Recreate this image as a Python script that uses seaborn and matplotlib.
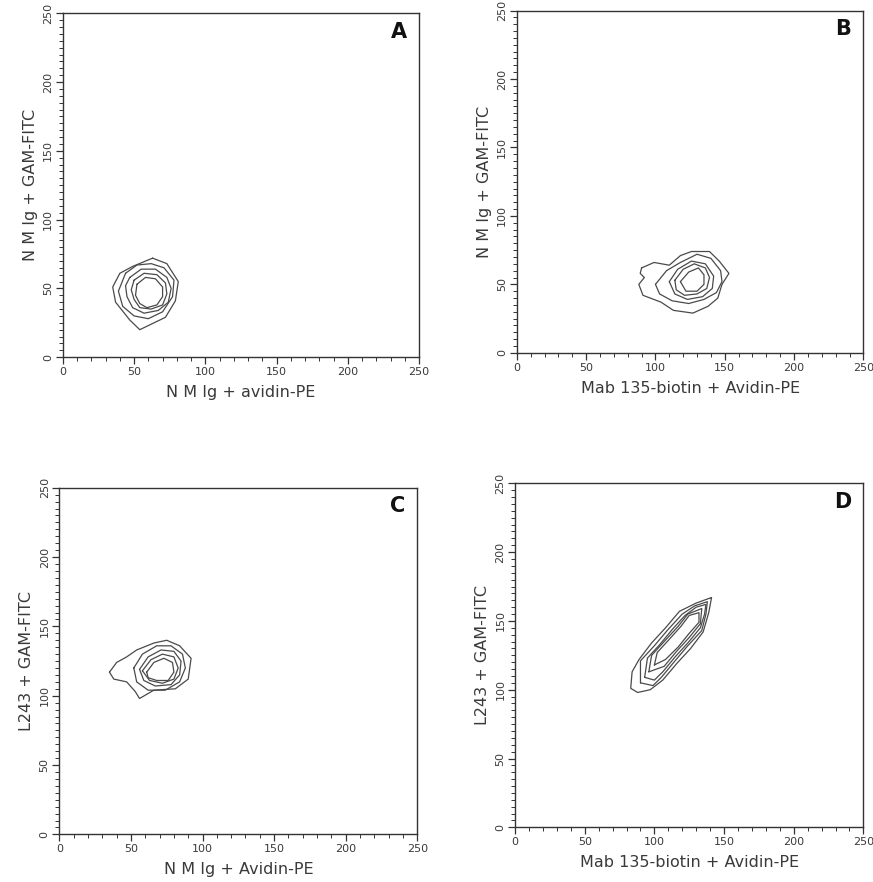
import numpy as np
import pandas as pd
import matplotlib
matplotlib.use("Agg")
import matplotlib.pyplot as plt
import seaborn as sns
from matplotlib.ticker import MultipleLocator

# contour rings, (x, y) in channel units, outer ring first
rings_a = [
    [(63, 72), (73, 68), (81, 55), (79, 41), (72, 29), (54, 20), (47, 27), (37, 40), (35, 51), (40, 61), (49, 66)],
    [(44, 61), (52, 67), (62, 68), (71, 65), (78, 56), (77, 44), (70, 33), (60, 28), (50, 30), (42, 37), (39, 48)],
    [(47, 58), (55, 64), (65, 64), (73, 58), (76, 50), (74, 40), (67, 34), (57, 32), (49, 36), (45, 44), (44, 52)],
    [(50, 56), (57, 61), (66, 60), (72, 54), (73, 46), (70, 38), (62, 35), (54, 36), (50, 42), (48, 49)],
    [(52, 53), (58, 58), (65, 57), (70, 51), (70, 44), (66, 38), (59, 36), (54, 39), (51, 45)],
]
rings_b = [
    [(90, 62), (99, 66), (110, 64), (118, 71), (126, 74), (139, 74), (146, 67), (153, 58), (148, 50), (145, 40),
     (138, 34), (127, 29), (113, 31), (104, 37), (91, 42), (88, 50), (92, 55), (89, 58)],
    [(100, 50), (108, 60), (118, 66), (130, 72), (140, 69), (147, 60), (148, 52), (144, 44), (135, 39), (124, 36),
     (112, 38), (103, 43)],
    [(110, 52), (116, 61), (126, 67), (136, 65), (142, 56), (141, 47), (134, 41), (123, 39), (114, 43)],
    [(114, 53), (120, 61), (128, 65), (136, 62), (139, 55), (137, 47), (130, 43), (121, 42), (115, 46)],
    [(118, 52), (124, 59), (131, 62), (135, 57), (135, 50), (130, 45), (122, 45)],
]
rings_c = [
    [(35, 117), (40, 124), (47, 128), (54, 133), (66, 138), (75, 140), (84, 136), (92, 127), (90, 112), (81, 105),
     (66, 104), (56, 98), (53, 103), (47, 110), (38, 112)],
    [(52, 120), (58, 130), (68, 136), (78, 136), (86, 130), (88, 120), (84, 110), (74, 104), (62, 104), (54, 110)],
    [(56, 119), (62, 128), (71, 133), (80, 132), (85, 125), (84, 115), (78, 108), (67, 107), (59, 111)],
    [(58, 118), (64, 126), (72, 130), (80, 128), (83, 120), (80, 112), (72, 109), (63, 111)],
    [(61, 117), (66, 124), (73, 127), (79, 124), (80, 117), (76, 111), (68, 111), (62, 113)],
]
rings_d = [
    [(141, 167), (139, 156), (135, 142), (126, 130), (116, 119), (106, 107), (97, 100), (88, 98), (83, 101),
     (84, 113), (89, 122), (98, 134), (108, 145), (118, 157), (130, 163)],
    [(90, 105), (90, 121), (100, 132), (110, 144), (120, 155), (129, 161), (138, 164), (137, 155), (134, 143),
     (124, 132), (114, 120), (105, 109), (99, 103)],
    [(93, 109), (95, 123), (104, 133), (113, 144), (122, 154), (130, 160), (137, 162), (136, 155), (133, 145),
     (124, 134), (115, 124), (106, 113), (100, 107)],
    [(96, 113), (98, 125), (107, 135), (117, 146), (124, 155), (134, 159), (133, 148), (125, 138), (116, 128),
     (107, 117)],
    [(100, 118), (102, 127), (111, 137), (119, 146), (125, 154), (132, 156), (132, 149), (125, 141), (117, 131),
     (108, 122)],
]

panel_letters = ["A", "B", "C", "D"]
x_labels = ["N M Ig + avidin-PE", "Mab 135-biotin + Avidin-PE",
            "N M Ig + Avidin-PE", "Mab 135-biotin + Avidin-PE"]
y_labels = ["N M Ig + GAM-FITC", "N M Ig + GAM-FITC",
            "L243 + GAM-FITC", "L243 + GAM-FITC"]
tick_values = [0, 50, 100, 150, 200, 250]

sns.set_style("white")
plt.rcParams['font.family'] = ['DejaVu Sans']

fig = plt.figure(figsize=(8.73, 8.82), dpi=100)
# [left, bottom, width, height] for A, B, C, D
boxes = [
    [0.072, 0.595, 0.408, 0.390],
    [0.592, 0.600, 0.397, 0.388],
    [0.068, 0.054, 0.410, 0.393],
    [0.590, 0.062, 0.399, 0.390],
]
text_col = "#3a3a3a"

for i, rings in enumerate([rings_a, rings_b, rings_c, rings_d]):
    rows = []
    for r, ring in enumerate(rings):
        pts = ring + [ring[0]]
        for k, (x, y) in enumerate(pts):
            rows.append({"ring": r, "order": k, "x": x, "y": y})
    df = pd.DataFrame(rows)

    ax = fig.add_axes(boxes[i])
    sns.lineplot(data=df, x="x", y="y", units="ring", estimator=None, sort=False,
                 color="#4a4a4a", linewidth=0.9, ax=ax)
    ax.set_xlim(0, 250)
    ax.set_ylim(0, 250)
    ax.set_xticks(tick_values)
    ax.set_yticks(tick_values)
    ax.set_xticklabels([str(t) for t in tick_values], fontsize=8, color=text_col)
    ax.set_yticklabels([str(t) for t in tick_values], fontsize=8, color=text_col,
                       rotation=90, va="center")
    ax.xaxis.set_minor_locator(MultipleLocator(10))
    ax.yaxis.set_minor_locator(MultipleLocator(5))
    ax.tick_params(which="major", direction="out", length=5, width=0.9, color="#333333", pad=2)
    ax.tick_params(which="minor", direction="out", length=3, width=0.7, color="#333333")
    ax.tick_params(axis="y", which="both", left=True)
    ax.tick_params(axis="x", which="both", bottom=True)
    for s in ax.spines.values():
        s.set_color("#333333")
        s.set_linewidth(1.0)
    ax.set_xlabel(x_labels[i], fontsize=11.5, color=text_col, labelpad=6)
    ax.set_ylabel(y_labels[i], fontsize=11.5, color=text_col, labelpad=4)
    ax.text(0.965, 0.975, panel_letters[i], transform=ax.transAxes, ha="right", va="top",
            fontsize=15, fontweight="bold", color="#111111")

fig.savefig("out.png", dpi=100)
